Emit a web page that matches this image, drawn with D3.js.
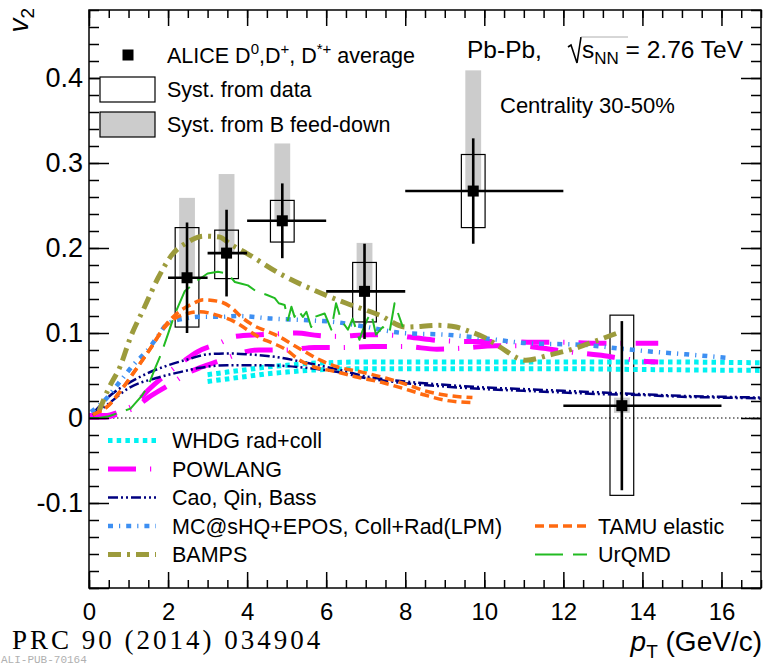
<!DOCTYPE html>
<html><head><meta charset="utf-8">
<script src="https://cdn.jsdelivr.net/npm/d3@7"></script>
<style>
body{margin:0;background:#fff}
svg{display:block}
text{font-family:"Liberation Sans",Arial,Helvetica,sans-serif;fill:#000}
</style>
</head><body>
<svg id="chart" width="766" height="666"></svg>
<script>
// ALICE prompt D-meson v2 (average of D0, D+, D*+), Pb-Pb 30-50%
const ptBinLow  = [2, 3, 4, 6, 8, 12];
const ptBinHigh = [3, 4, 6, 8, 12, 16];
const ptMean    = [2.48, 3.48, 4.89, 6.97, 9.72, 13.48];
const v2Data    = [0.165, 0.194, 0.232, 0.149, 0.267, 0.0145];
const v2Stat    = [0.065, 0.051, 0.044, 0.056, 0.062, 0.0995];
const v2SystLo  = [0.058, 0.030, 0.025, 0.036, 0.043, 0.1055];
const v2SystHi  = [0.059, 0.027, 0.024, 0.034, 0.043, 0.1065];
const v2FeedLo  = [0.0, 0.0, 0.0, 0.0, 0.0, 0.0085];
const v2FeedHi  = [0.094, 0.093, 0.091, 0.057, 0.142, 0.0095];

// model predictions: [pT, v2]
const whdgUpper = [[3.0,0.051],[3.5,0.054],[4,0.057],[4.5,0.060],[5,0.062],[5.5,0.064],[6,0.065],[7,0.066],[8,0.066],[10,0.066],[12,0.066],[14,0.066],[17,0.065]];
const whdgLower = [[3.0,0.043],[3.5,0.046],[4,0.049],[4.5,0.052],[5,0.054],[5.5,0.056],[6,0.057],[7,0.058],[8,0.058],[10,0.058],[12,0.058],[14,0.057],[17,0.056]];
const powlangUpper = [[0,0.003],[0.4,0.003],[0.8,0.008],[1.15,0.016],[1.5,0.033],[2.0,0.053],[2.4,0.067],[2.75,0.078],[3.3,0.088],[3.7,0.096],[4.3,0.098],[4.8,0.099],[5.25,0.100],[5.8,0.097],[6.3,0.096],[7.1,0.098],[7.8,0.097],[8.3,0.094],[8.9,0.091],[9.7,0.090],[10.5,0.090],[11.2,0.089],[12,0.089],[12.8,0.088],[13.5,0.088],[14.4,0.088]];
const powlangLower = [[0,0.001],[0.4,0.001],[0.8,0.006],[1.15,0.012],[1.5,0.024],[2.1,0.041],[2.5,0.053],[2.85,0.060],[3.35,0.068],[3.8,0.076],[4.3,0.080],[5.0,0.080],[5.7,0.083],[6.4,0.083],[7.2,0.084],[8.0,0.084],[8.8,0.081],[9.4,0.082],[10.3,0.085],[10.9,0.085],[11.5,0.082],[12.1,0.078],[12.9,0.074],[13.5,0.070],[14.0,0.067],[14.4,0.066]];
const caoUpper = [[0.1,0.005],[0.5,0.025],[1,0.041],[1.5,0.053],[2,0.062],[2.5,0.069],[3,0.075],[3.5,0.076],[4,0.075],[4.7,0.072],[5.5,0.065],[6.3,0.057],[7,0.049],[8,0.043],[9,0.039],[10,0.036],[11,0.034],[12,0.032],[13,0.030],[14,0.028],[15,0.026],[16,0.025],[17,0.024]];
const caoLower = [[0.1,0.003],[0.5,0.017],[1,0.035],[1.7,0.047],[2.3,0.054],[2.8,0.059],[3.5,0.062],[4.5,0.062],[5.5,0.059],[6.3,0.054],[7,0.047],[8,0.041],[9,0.037],[10,0.034],[11,0.032],[12,0.030],[13,0.028],[14,0.027],[15,0.025],[16,0.024],[17,0.023]];
const mcshqEpos = [[0.05,0.007],[0.4,0.021],[0.82,0.045],[1.15,0.064],[1.45,0.078],[1.74,0.096],[1.99,0.111],[2.42,0.117],[2.84,0.119],[3.34,0.119],[3.77,0.120],[4.61,0.117],[5.54,0.115],[6.21,0.113],[6.8,0.109],[7.94,0.100],[9.03,0.098],[9.96,0.094],[11.09,0.088],[12.53,0.086],[13.37,0.082],[14.25,0.078],[15.09,0.075],[16.1,0.071]];
const bamps = [[0.25,0.008],[0.5,0.035],[0.8,0.062],[1.05,0.095],[1.4,0.130],[1.75,0.165],[2.1,0.192],[2.5,0.207],[2.9,0.214],[3.3,0.213],[3.56,0.205],[3.98,0.194],[4.82,0.170],[5.66,0.151],[6.51,0.135],[7.35,0.121],[8.02,0.107],[8.86,0.109],[9.29,0.107],[9.62,0.102],[10.04,0.094],[10.38,0.084],[11.05,0.068],[11.64,0.074],[12.3,0.082],[12.9,0.092],[13.37,0.100]];
const tamuUpper = [[0.1,0.004],[0.5,0.015],[0.8,0.032],[1.2,0.058],[1.6,0.085],[1.9,0.107],[2.25,0.124],[2.6,0.134],[2.9,0.139],[3.3,0.137],[3.6,0.130],[3.85,0.119],[4.2,0.108],[4.5,0.102],[4.8,0.096],[5.2,0.085],[5.5,0.077],[5.85,0.068],[6.3,0.060],[6.9,0.054],[7.5,0.047],[8,0.040],[8.5,0.032],[9,0.027],[9.7,0.024]];
const tamuLower = [[0.1,0.004],[0.5,0.015],[0.8,0.032],[1.2,0.058],[1.6,0.085],[1.9,0.106],[2.2,0.118],[2.5,0.123],[2.8,0.125],[3.3,0.120],[3.65,0.114],[4.0,0.104],[4.3,0.095],[4.65,0.088],[5.0,0.080],[5.3,0.069],[5.7,0.060],[6.2,0.055],[6.8,0.048],[7.4,0.042],[8,0.034],[8.5,0.027],[9,0.021],[9.7,0.018]];
const urqmd = [[0,0],[0.25,0.0],[0.5,0.002],[0.8,0.007],[1.05,0.011],[1.35,0.027],[1.5,0.038],[1.65,0.056],[1.83,0.076],[2.0,0.099],[2.16,0.121],[2.42,0.149],[2.75,0.162],[3.0,0.170],[3.26,0.172],[3.5,0.170],[3.69,0.160],[3.86,0.158],[4.02,0.156],[4.23,0.149],[4.49,0.145],[4.7,0.141],[4.8,0.135],[4.95,0.133],[5.03,0.115],[5.12,0.131],[5.2,0.119],[5.29,0.127],[5.41,0.119],[5.5,0.125],[5.62,0.107],[5.71,0.119],[5.96,0.123],[6.13,0.104],[6.25,0.135],[6.38,0.115],[6.55,0.104],[6.67,0.117],[6.84,0.092],[6.93,0.104],[7.05,0.117],[7.14,0.123],[7.26,0.098],[7.43,0.107],[7.6,0.100],[7.73,0.135],[7.94,0.107]];

const xTickValues = [0, 2, 4, 6, 8, 10, 12, 14, 16];
const yTickValues = [-0.1, 0, 0.1, 0.2, 0.3, 0.4];
const yTickLabels = ["-0.1", "0", "0.1", "0.2", "0.3", "0.4"];

const models = [
  {name: "WHDG rad+coll", curves: [whdgUpper, whdgLower], color: "#00f2f2", width: 5, dash: "4.5,4.2", smooth: true},
  {name: "POWLANG", curves: [powlangUpper, powlangLower], color: "#ff00ff", width: 5, dash: "28,14,1.2,14", smooth: true},
  {name: "Cao, Qin, Bass", curves: [caoUpper, caoLower], color: "#000080", width: 2.5, dash: "10,3,2,3,2,3", smooth: true},
  {name: "MC@sHQ+EPOS, Coll+Rad(LPM)", curves: [mcshqEpos], color: "#3d8ff2", width: 4.5, dash: "5,6,1.2,6", smooth: true},
  {name: "BAMPS", curves: [bamps], color: "#9c9b3c", width: 5, dash: "13,6,3,6", smooth: true},
  {name: "TAMU elastic", curves: [tamuUpper, tamuLower], color: "#ff6a10", width: 3.5, dash: "9,5", smooth: true},
  {name: "UrQMD", curves: [urqmd], color: "#22bb22", width: 2, dash: "28,10", smooth: false}
];

const svg = d3.select("#chart");
const L = 89, R = 761, T = 10, B = 588;
const x = d3.scaleLinear().domain([0, 17]).range([L, R]);
const y = d3.scaleLinear().domain([-0.2, 0.48]).range([B, T]);

svg.append("defs").append("clipPath").attr("id", "plotArea")
  .append("rect").attr("x", L).attr("y", T).attr("width", R - L).attr("height", B - T);

// zero reference line
svg.append("line").attr("x1", L).attr("x2", R).attr("y1", y(0)).attr("y2", y(0))
  .attr("stroke", "#000").attr("stroke-width", 1).attr("stroke-dasharray", "1.5,2.5");

const plot = svg.append("g").attr("clip-path", "url(#plotArea)");
const idx = d3.range(v2Data.length);

// B feed-down systematic bands
plot.selectAll("rect.feed").data(idx).join("rect").attr("class", "feed")
  .attr("x", i => x(ptMean[i] - 0.2)).attr("width", i => x(ptMean[i] + 0.2) - x(ptMean[i] - 0.2))
  .attr("y", i => y(v2Data[i] + v2FeedHi[i]))
  .attr("height", i => y(v2Data[i] - v2FeedLo[i]) - y(v2Data[i] + v2FeedHi[i]))
  .attr("fill", "#cccccc");

// systematic boxes from data
plot.selectAll("rect.syst").data(idx).join("rect").attr("class", "syst")
  .attr("x", i => x(ptMean[i] - 0.3)).attr("width", i => x(ptMean[i] + 0.3) - x(ptMean[i] - 0.3))
  .attr("y", i => y(v2Data[i] + v2SystHi[i]))
  .attr("height", i => y(v2Data[i] - v2SystLo[i]) - y(v2Data[i] + v2SystHi[i]))
  .attr("fill", "none").attr("stroke", "#000").attr("stroke-width", 1.2);

// model curves
const lineSmooth = d3.line().x(d => x(d[0])).y(d => y(d[1])).curve(d3.curveMonotoneX);
const lineRaw = d3.line().x(d => x(d[0])).y(d => y(d[1]));
models.forEach(m => {
  m.curves.forEach(c => {
    plot.append("path").datum(c)
      .attr("d", m.smooth ? lineSmooth : lineRaw)
      .attr("fill", "none").attr("stroke", m.color).attr("stroke-width", m.width)
      .attr("stroke-dasharray", m.dash).attr("stroke-linejoin", "round");
  });
});

// statistical error bars and bin widths
plot.selectAll("line.xerr").data(idx).join("line").attr("class", "xerr")
  .attr("x1", i => x(ptBinLow[i])).attr("x2", i => x(ptBinHigh[i]))
  .attr("y1", i => y(v2Data[i])).attr("y2", i => y(v2Data[i]))
  .attr("stroke", "#000").attr("stroke-width", 2.6);
plot.selectAll("line.yerr").data(idx).join("line").attr("class", "yerr")
  .attr("x1", i => x(ptMean[i])).attr("x2", i => x(ptMean[i]))
  .attr("y1", i => y(v2Data[i] - v2Stat[i])).attr("y2", i => y(v2Data[i] + v2Stat[i]))
  .attr("stroke", "#000").attr("stroke-width", 2.6);
const ms = 11;
plot.selectAll("rect.mk").data(idx).join("rect").attr("class", "mk")
  .attr("x", i => x(ptMean[i]) - ms / 2).attr("y", i => y(v2Data[i]) - ms / 2)
  .attr("width", ms).attr("height", ms).attr("fill", "#000");

// axes with inward ticks on all four sides
function styleAxis(g) {
  g.select(".domain").remove();
  g.selectAll(".tick line").attr("stroke", "#000").attr("stroke-width", 1.5);
}
const xMinor = d3.range(0, 17.01, 0.5);
const yMinor = d3.range(-0.2, 0.481, 0.02).map(v => +v.toFixed(2));
const yMajor = [-0.2, -0.1, 0, 0.1, 0.2, 0.3, 0.4];

svg.append("g").attr("transform", `translate(0,${B})`)
  .call(d3.axisBottom(x).tickValues(xMinor).tickSize(-8).tickFormat(""))
  .call(styleAxis);
svg.append("g").attr("transform", `translate(0,${T})`)
  .call(d3.axisTop(x).tickValues(xMinor).tickSize(-8).tickFormat(""))
  .call(styleAxis);
svg.append("g").attr("transform", `translate(0,${T})`)
  .call(d3.axisTop(x).tickValues(xTickValues).tickSize(-16).tickFormat(""))
  .call(styleAxis);
svg.append("g").attr("class", "xaxis").attr("transform", `translate(0,${B})`)
  .call(d3.axisBottom(x).tickValues(xTickValues).tickSize(-16).tickPadding(15).tickFormat(d3.format("d")))
  .call(styleAxis)
  .call(g => g.selectAll("text").attr("font-size", 24).attr("fill", "#000"));

svg.append("g").attr("transform", `translate(${L},0)`)
  .call(d3.axisLeft(y).tickValues(yMinor).tickSize(-10).tickFormat(""))
  .call(styleAxis);
svg.append("g").attr("transform", `translate(${R},0)`)
  .call(d3.axisRight(y).tickValues(yMinor).tickSize(-10).tickFormat(""))
  .call(styleAxis);
svg.append("g").attr("transform", `translate(${R},0)`)
  .call(d3.axisRight(y).tickValues(yMajor).tickSize(-20).tickFormat(""))
  .call(styleAxis);
svg.append("g").attr("transform", `translate(${L},0)`)
  .call(d3.axisLeft(y).tickValues(yMajor).tickSize(-20).tickFormat(""))
  .call(styleAxis);
svg.append("g").attr("class", "yaxis").attr("transform", `translate(${L},0)`)
  .call(d3.axisLeft(y).tickValues(yTickValues).tickSize(0).tickPadding(6)
    .tickFormat((d, i) => yTickLabels[i]))
  .call(styleAxis)
  .call(g => g.selectAll("text").attr("font-size", 27).attr("fill", "#000"));

// frame
svg.append("rect").attr("x", L).attr("y", T).attr("width", R - L).attr("height", B - T)
  .attr("fill", "none").attr("stroke", "#000").attr("stroke-width", 1.5);

// axis titles
const yt = svg.append("text").attr("transform", "translate(28,8) rotate(-90)")
  .attr("text-anchor", "end").attr("font-size", 28);
yt.append("tspan").attr("font-style", "italic").text("v");
yt.append("tspan").attr("font-size", 19).attr("dy", 6).text("2");

const xt = svg.append("text").attr("x", 762).attr("y", 651).attr("text-anchor", "end").attr("font-size", 28);
xt.append("tspan").attr("font-style", "italic").text("p");
xt.append("tspan").attr("font-size", 19).attr("dy", 7).text("T");
xt.append("tspan").attr("dy", -7).text(" (GeV/c)");

// data legend
const legFont = 21.5;
svg.append("rect").attr("x", 128 - ms / 2).attr("y", 55 - ms / 2).attr("width", ms).attr("height", ms).attr("fill", "#000");
const t1 = svg.append("text").attr("x", 167).attr("y", 63).attr("font-size", legFont);
t1.append("tspan").text("ALICE D");
t1.append("tspan").attr("font-size", 15).attr("dy", -9).text("0");
t1.append("tspan").attr("dy", 9).text(",D");
t1.append("tspan").attr("font-size", 15).attr("dy", -9).text("+");
t1.append("tspan").attr("dy", 9).text(", D");
t1.append("tspan").attr("font-size", 15).attr("dy", -9).text("*+");
t1.append("tspan").attr("dy", 9).text(" average");
svg.append("rect").attr("x", 100).attr("y", 77).attr("width", 55).attr("height", 25)
  .attr("fill", "#fff").attr("stroke", "#000").attr("stroke-width", 1.2);
svg.append("text").attr("x", 167).attr("y", 97).attr("font-size", legFont).text("Syst. from data");
svg.append("rect").attr("x", 100).attr("y", 112).attr("width", 55).attr("height", 25)
  .attr("fill", "#cccccc").attr("stroke", "#000").attr("stroke-width", 1.2);
svg.append("text").attr("x", 167).attr("y", 132).attr("font-size", legFont).text("Syst. from B feed-down");

// collision system label
svg.append("text").attr("x", 467).attr("y", 58).attr("font-size", 24.5).text("Pb-Pb,");
svg.append("path").attr("d", "M568,47 L571,45 L577,63 L581,37")
  .attr("fill", "none").attr("stroke", "#000").attr("stroke-width", 1.6);
svg.append("line").attr("x1", 581).attr("x2", 628).attr("y1", 37).attr("y2", 37)
  .attr("stroke", "#999").attr("stroke-width", 0.8);
const ts = svg.append("text").attr("x", 582).attr("y", 58).attr("font-size", 24.5);
ts.append("tspan").text("s");
ts.append("tspan").attr("font-size", 17).attr("dy", 6).text("NN");
ts.append("tspan").attr("dy", -6).text(" = 2.76 TeV");
svg.append("text").attr("x", 500).attr("y", 113).attr("font-size", 22).text("Centrality 30-50%");

// model legend
const legRows = [
  {m: 0, x1: 108, x2: 156, tx: 172, y: 440.5},
  {m: 1, x1: 108, x2: 156, tx: 172, y: 469},
  {m: 2, x1: 108, x2: 156, tx: 172, y: 497.5},
  {m: 3, x1: 108, x2: 156, tx: 172, y: 526},
  {m: 4, x1: 108, x2: 156, tx: 172, y: 554.5},
  {m: 5, x1: 535, x2: 587, tx: 598, y: 526},
  {m: 6, x1: 535, x2: 587, tx: 598, y: 554.5}
];
legRows.forEach(r => {
  const m = models[r.m];
  svg.append("line").attr("x1", r.x1).attr("x2", r.x2).attr("y1", r.y).attr("y2", r.y)
    .attr("stroke", m.color).attr("stroke-width", m.width).attr("stroke-dasharray", m.dash);
  svg.append("text").attr("x", r.tx).attr("y", r.y + 7.5).attr("font-size", legFont).text(m.name);
});

// publication reference
svg.append("text").attr("x", 12).attr("y", 649).attr("font-size", 27)
  .style("font-family", "'Liberation Serif', 'Times New Roman', serif").attr("letter-spacing", 3)
  .text("PRC 90 (2014) 034904");
svg.append("text").attr("x", 1).attr("y", 663).attr("font-size", 11)
  .style("font-family", "'Liberation Mono', 'DejaVu Sans Mono', monospace").style("fill", "#b0b0b0")
  .text("ALI-PUB-70164");
</script>
</body></html>
